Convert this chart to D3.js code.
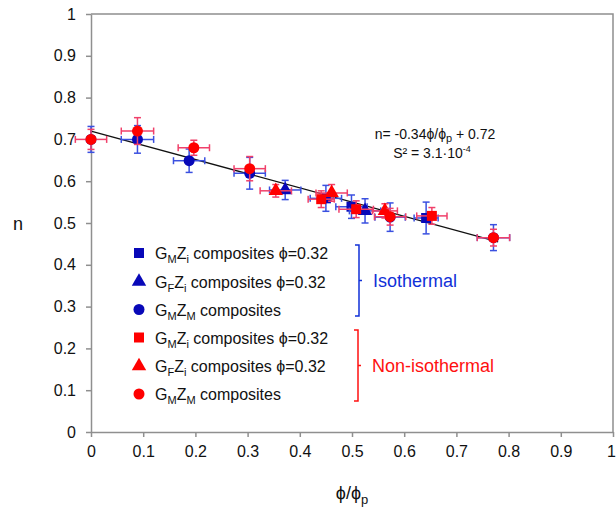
<!DOCTYPE html>
<html>
<head>
<meta charset="utf-8">
<script src="https://cdn.jsdelivr.net/npm/d3@7"></script>
<style>
  html, body { margin: 0; padding: 0; background: #fff; }
  svg { display: block; font-family: "Liberation Sans", Arial, sans-serif; }
</style>
</head>
<body>
<svg id="chart" width="616" height="507"></svg>
<script>
// Axis ticks
const xTicks = [0, 0.1, 0.2, 0.3, 0.4, 0.5, 0.6, 0.7, 0.8, 0.9, 1];
const yTicks = [0, 0.1, 0.2, 0.3, 0.4, 0.5, 0.6, 0.7, 0.8, 0.9, 1];

// Isothermal series: [phi/phi_p, n, x error, n error]
const isoGMZi = [[0.450, 0.559, 0.030, 0.031], [0.499, 0.539, 0.030, 0.028], [0.642, 0.512, 0.023, 0.038]];
const isoGFZi = [[0.372, 0.579, 0.030, 0.023], [0.525, 0.529, 0.030, 0.029]];
const isoGMZM = [[0.000, 0.700, 0.000, 0.031], [0.089, 0.700, 0.031, 0.033], [0.188, 0.649, 0.030, 0.028],
                 [0.304, 0.619, 0.030, 0.038], [0.573, 0.514, 0.029, 0.034], [0.771, 0.465, 0.031, 0.031]];

// Non-isothermal series
const nonGMZi = [[0.441, 0.557, 0.025, 0.020], [0.508, 0.533, 0.033, 0.020], [0.653, 0.517, 0.029, 0.020]];
const nonGFZi = [[0.354, 0.577, 0.030, 0.015], [0.461, 0.572, 0.030, 0.020], [0.563, 0.529, 0.024, 0.017]];
const nonGMZM = [[0.000, 0.700, 0.030, 0.024], [0.089, 0.720, 0.031, 0.032], [0.197, 0.680, 0.030, 0.018],
                 [0.304, 0.630, 0.030, 0.029], [0.573, 0.515, 0.030, 0.020], [0.771, 0.465, 0.031, 0.020]];

// Linear fit n = slope * phi/phi_p + intercept
const fitSlope = -0.34, fitIntercept = 0.72, fitRange = [0, 0.78];

const svg = d3.select("#chart");
const x = d3.scaleLinear().domain([0, 1]).range([91, 613]);
const y = d3.scaleLinear().domain([0, 1]).range([432, 14]);
const axisColor = "#8f8f8f";

// frame (top and right)
svg.append("path")
  .attr("d", `M${x(0)},${y(1)}H${x(1)}V${y(0)}`)
  .attr("fill", "none").attr("stroke", axisColor).attr("stroke-width", 1.5);

const xAxis = svg.append("g").attr("transform", `translate(0,${y(0)})`)
  .call(d3.axisBottom(x).tickValues(xTicks).tickSize(5).tickPadding(9).tickSizeOuter(0)
        .tickFormat(d3.format("~g")));
const yAxis = svg.append("g").attr("transform", `translate(${x(0)},0)`)
  .call(d3.axisLeft(y).tickValues(yTicks).tickSize(5).tickPadding(10).tickSizeOuter(0)
        .tickFormat(d3.format("~g")));
[xAxis, yAxis].forEach(g => {
  g.selectAll("path, line").attr("stroke", axisColor).attr("stroke-width", 1.5);
  g.selectAll("text").attr("fill", "#111").style("font-size", "16px")
    .style("font-family", "'Liberation Sans', Arial, sans-serif");
});
// the last x label sits against the right edge
xAxis.selectAll(".tick").filter(d => d === 1).select("text").attr("dx", -2);

// axis titles
const xt = svg.append("text").attr("x", 352).attr("y", 499).attr("text-anchor", "middle")
  .style("font-size", "18px").attr("fill", "#111");
xt.append("tspan").text("ϕ/ϕ");
xt.append("tspan").attr("dy", 5).style("font-size", "13px").text("p");
svg.append("text").attr("x", 18).attr("y", 230).attr("text-anchor", "middle")
  .style("font-size", "18px").attr("fill", "#111").text("n");

// fitted line
svg.append("line")
  .attr("x1", x(fitRange[0])).attr("y1", y(fitSlope * fitRange[0] + fitIntercept))
  .attr("x2", x(fitRange[1])).attr("y2", y(fitSlope * fitRange[1] + fitIntercept))
  .attr("stroke", "#111").attr("stroke-width", 1.3);

const blue = "#0808b8", blueErr = "#3a50e0";
const red = "#ff0000", redErr = "#f0406a";

function errorBars(data, color) {
  const g = svg.append("g").attr("stroke", color).attr("stroke-width", 1.5).attr("fill", "none");
  const cap = 3.5;
  data.forEach(([vx, vy, ex, ey]) => {
    if (ex > 0) {
      g.append("line").attr("x1", x(vx - ex)).attr("x2", x(vx + ex)).attr("y1", y(vy)).attr("y2", y(vy));
      [vx - ex, vx + ex].forEach(e => g.append("line").attr("x1", x(e)).attr("x2", x(e))
        .attr("y1", y(vy) - cap).attr("y2", y(vy) + cap));
    }
    if (ey > 0) {
      g.append("line").attr("x1", x(vx)).attr("x2", x(vx)).attr("y1", y(vy - ey)).attr("y2", y(vy + ey));
      [vy - ey, vy + ey].forEach(e => g.append("line").attr("y1", y(e)).attr("y2", y(e))
        .attr("x1", x(vx) - cap).attr("x2", x(vx) + cap));
    }
  });
}

const symbols = { square: d3.symbolSquare, triangle: d3.symbolTriangle, circle: d3.symbolCircle };
const symSize = { square: 100, triangle: 90, circle: 95 };

function markers(data, shape, color) {
  svg.append("g").selectAll("path").data(data).join("path")
    .attr("transform", d => `translate(${x(d[0])},${y(d[1])})`)
    .attr("d", d3.symbol(symbols[shape], symSize[shape]))
    .attr("fill", color);
}

const series = [
  [isoGMZi, "square", blue, blueErr], [isoGFZi, "triangle", blue, blueErr], [isoGMZM, "circle", blue, blueErr],
  [nonGMZi, "square", red, redErr], [nonGFZi, "triangle", red, redErr], [nonGMZM, "circle", red, redErr]
];
series.forEach(([data, shape, color, errColor]) => {
  errorBars(data, errColor);
  markers(data, shape, color);
});

// equation
const eq = svg.append("g").attr("fill", "#111").style("font-size", "14px").attr("text-anchor", "middle");
const eq1 = eq.append("text").attr("x", 435).attr("y", 139);
eq1.append("tspan").text("n= -0.34ϕ/ϕ");
eq1.append("tspan").attr("dy", 3).style("font-size", "11px").text("p");
eq1.append("tspan").attr("dy", -3).text(" + 0.72");
const eq2 = eq.append("text").attr("x", 432).attr("y", 158);
eq2.append("tspan").text("S² = 3.1·10");
eq2.append("tspan").attr("dy", -6).style("font-size", "9px").text("-4");

// legend
const legendRows = [
  ["square", blue, "G", "M", "Z", "i", " composites ϕ=0.32"],
  ["triangle", blue, "G", "F", "Z", "i", " composites ϕ=0.32"],
  ["circle", blue, "G", "M", "Z", "M", " composites"],
  ["square", red, "G", "M", "Z", "i", " composites ϕ=0.32"],
  ["triangle", red, "G", "F", "Z", "i", " composites ϕ=0.32"],
  ["circle", red, "G", "M", "Z", "M", " composites"]
];
const rowY = [253, 281.5, 309.5, 337.5, 366, 394];
legendRows.forEach((r, i) => {
  svg.append("path").attr("transform", `translate(139,${rowY[i]})`)
    .attr("d", d3.symbol(symbols[r[0]], symSize[r[0]])).attr("fill", r[1]);
  const t = svg.append("text").attr("x", 155).attr("y", rowY[i] + 6).attr("fill", "#111").style("font-size", "16px");
  t.append("tspan").text(r[2]);
  t.append("tspan").attr("dy", 4).style("font-size", "11px").text(r[3]);
  t.append("tspan").attr("dy", -4).text(r[4]);
  t.append("tspan").attr("dy", 4).style("font-size", "11px").text(r[5]);
  t.append("tspan").attr("dy", -4).text(r[6]);
});

// group brackets
function bracket(xb, y0, y1, color, label) {
  const ym = (y0 + y1) / 2;
  svg.append("path")
    .attr("d", `M${xb - 4},${y0}H${xb}V${y1}H${xb - 4}M${xb},${ym}H${xb + 3}`)
    .attr("fill", "none").attr("stroke", color).attr("stroke-width", 1.5);
  svg.append("text").attr("x", xb + 14).attr("y", ym + 6.5).attr("fill", color)
    .style("font-size", "18px").text(label);
}
bracket(359, 245, 316, "#1030d8", "Isothermal");
bracket(358, 330, 401, "#ff1010", "Non-isothermal");
</script>
</body>
</html>
